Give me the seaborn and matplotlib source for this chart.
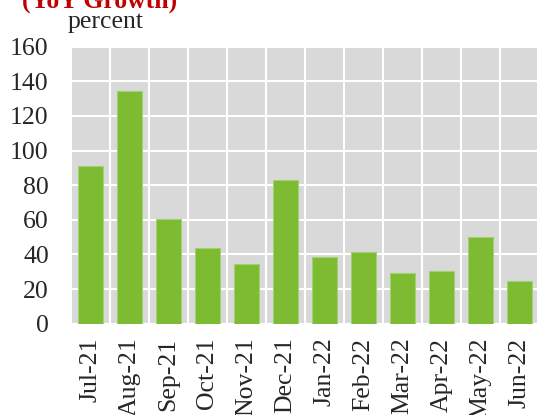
import matplotlib
matplotlib.use("Agg")
import matplotlib.pyplot as plt
import seaborn as sns
import numpy as np

months = ["Jul-21", "Aug-21", "Sep-21", "Oct-21", "Nov-21", "Dec-21",
          "Jan-22", "Feb-22", "Mar-22", "Apr-22", "May-22", "Jun-22"]
growth = [91.3, 134.3, 60.7, 44.0, 34.6, 83.2, 38.6, 41.3, 29.4, 30.5, 50.1, 24.6]

sns.set_style("darkgrid", {"axes.facecolor": "#D9D9D9", "grid.color": "white"})
plt.rcParams["font.family"] = ["Liberation Serif", "DejaVu Serif"]

fig = plt.figure(figsize=(5.37, 4.15), dpi=100)
ax = fig.add_axes([71 / 537, 91.3 / 415, 468 / 537, 277 / 415])

sns.barplot(x=months, y=growth, color="#7CBB32", edgecolor="#A3D070",
            linewidth=0.8, width=0.63, saturation=1, ax=ax)

ax.set_ylim(0, 160)
ax.set_yticks(np.arange(0, 161, 20))
ax.set_xlim(-0.5, len(months) - 0.5)
ax.set_xticks(np.arange(len(months) + 1) - 0.5, minor=True)
ax.grid(False)
ax.grid(axis="y", which="major", color="white", linewidth=1.5)
ax.grid(axis="x", which="minor", color="white", linewidth=1.5)
ax.set_axisbelow(True)
for s in ax.spines.values():
    s.set_visible(False)

ax.tick_params(axis="y", length=0, pad=16, labelsize=18.5)
ax.tick_params(axis="x", which="major", length=0, pad=10, labelsize=18.5,
               labelrotation=90)
ax.tick_params(axis="x", which="minor", length=4, width=1, color="#BFBFBF")
ax.set_xlabel("")
ax.set_ylabel("")

fig.text(68 / 537, 1 - 28 / 415, "percent", fontsize=18.5, va="baseline")
fig.text(22 / 537, 1 - 7.5 / 415, "(YoY Growth)", fontsize=18.5,
         fontweight="bold", color="#C00000", va="baseline")

fig.savefig("out.png", dpi=100)
